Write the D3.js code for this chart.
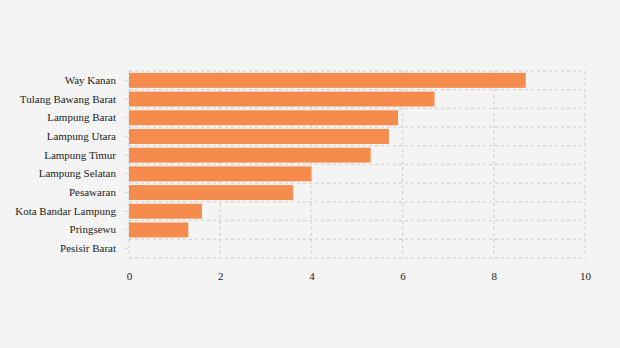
<!DOCTYPE html>
<html>
<head>
<meta charset="utf-8">
<script src="https://cdn.jsdelivr.net/npm/d3@7/dist/d3.min.js"></script>
<style>
  html, body { margin: 0; padding: 0; background: #f4f4f4; }
  svg { display: block; }
</style>
</head>
<body>
<svg id="chart" width="620" height="348"></svg>
<script>
// Regencies / cities, top to bottom
const categories = [
  "Way Kanan", "Tulang Bawang Barat", "Lampung Barat", "Lampung Utara",
  "Lampung Timur", "Lampung Selatan", "Pesawaran", "Kota Bandar Lampung",
  "Pringsewu", "Pesisir Barat"
];
const values = [8.7, 6.7, 5.9, 5.7, 5.3, 4.0, 3.6, 1.6, 1.3, 0];
const xTicks = [0, 2, 4, 6, 8, 10];

const svg = d3.select("#chart");
const W = 620, H = 348;
const margin = { top: 71, right: 35, bottom: 90, left: 129 };

svg.append("rect").attr("width", W).attr("height", H).attr("fill", "#f4f4f4");

const x = d3.scaleLinear().domain([0, 10]).range([margin.left, W - margin.right]);
const y = d3.scaleBand().domain(categories)
  .range([margin.top, H - margin.bottom])
  .paddingInner(0.2).paddingOuter(0.1);

const gridColor = "#d9d9d9";
const half = y.step() * y.paddingInner() / 2;
const font = "'Liberation Serif', 'Times New Roman', serif";

// horizontal grid at band boundaries
const bounds = categories.map(c => y(c) - half).concat([y(categories[categories.length - 1]) + y.bandwidth() + half]);
svg.append("g").selectAll("line").data(bounds).join("line")
  .attr("x1", x(0)).attr("x2", x(10))
  .attr("y1", d => d).attr("y2", d => d)
  .attr("stroke", gridColor).attr("stroke-width", 1.5).attr("stroke-dasharray", "3,3");

// vertical grid at ticks
const yTop = bounds[0], yBot = bounds[bounds.length - 1];
svg.append("g").selectAll("line").data(xTicks).join("line")
  .attr("x1", d => x(d)).attr("x2", d => x(d))
  .attr("y1", yTop).attr("y2", yBot)
  .attr("stroke", gridColor).attr("stroke-width", 1.5).attr("stroke-dasharray", "3,3");

// bars
svg.append("g").selectAll("rect").data(values).join("rect")
  .attr("x", x(0))
  .attr("y", (d, i) => y(categories[i]))
  .attr("width", d => x(d) - x(0))
  .attr("height", y.bandwidth())
  .attr("fill", "#f58b4c");

// y axis
const yAxis = svg.append("g")
  .attr("transform", `translate(${x(0) - 1},0)`)
  .call(d3.axisLeft(y).tickSize(5).tickPadding(7));
yAxis.select(".domain").remove();
yAxis.selectAll(".tick line").attr("stroke", "#dddddd");
yAxis.selectAll(".tick text")
  .attr("fill", "#222").style("font-family", font).style("font-size", "11px");

// x axis
const xAxis = svg.append("g")
  .attr("transform", `translate(0,${yBot + 6})`)
  .call(d3.axisBottom(x).tickValues(xTicks).tickFormat(d3.format("d")).tickSize(0).tickPadding(8));
xAxis.select(".domain").remove();
xAxis.selectAll(".tick text")
  .attr("fill", "#222").style("font-family", font).style("font-size", "11px");
</script>
</body>
</html>
